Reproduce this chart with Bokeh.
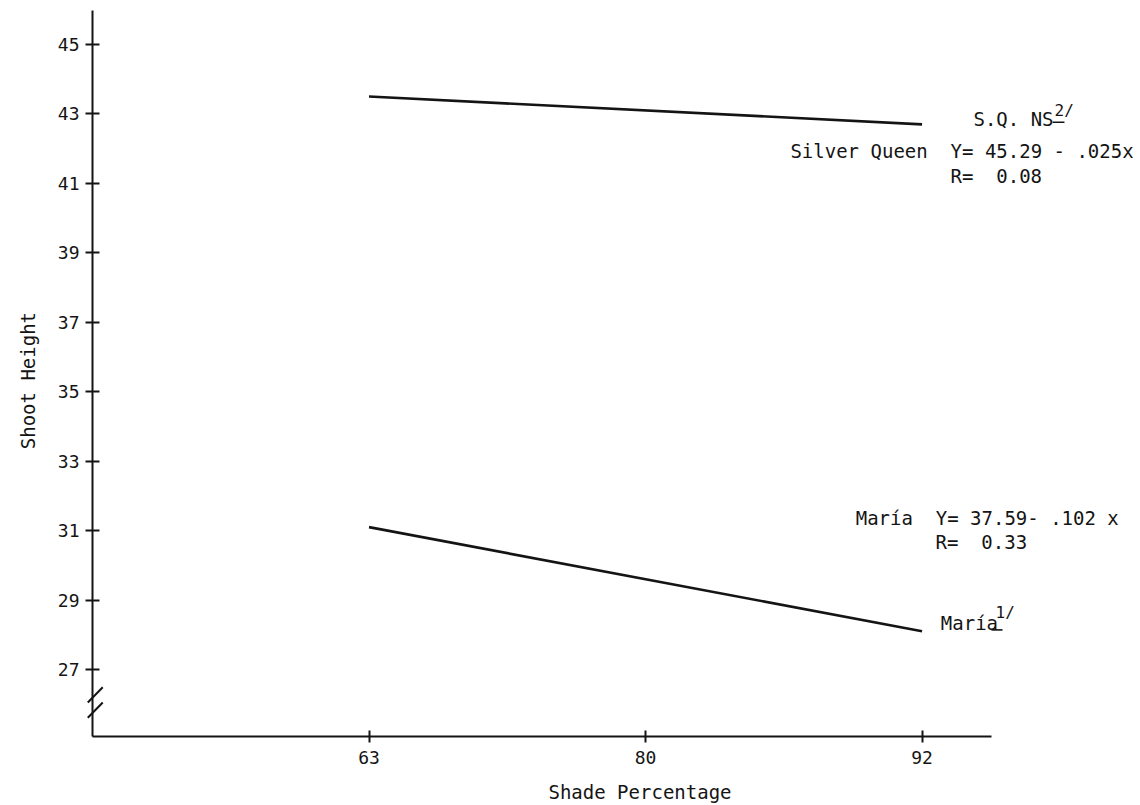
import math
from bokeh.plotting import figure
from bokeh.models import Range1d, FixedTicker, Label, Arrow
from bokeh.embed import file_html
from bokeh.resources import INLINE

# ---- data -------------------------------------------------------------
shade_labels = ["63", "80", "92"]          # x tick labels (equally spaced)
shade = [63, 92]                           # line end points (shade %)
silver_queen = [43.5, 42.7]                # shoot height, Silver Queen
maria = [31.1, 28.1]                       # shoot height, María
y_ticks = [27, 29, 31, 33, 35, 37, 39, 41, 43, 45]
break_y = [26.27, 25.83]                   # axis-break marks on the y axis
y_axis_span = (25.07, 45.98)               # drawn extent of the y axis
x_axis_span = (0, 3.25)                    # drawn extent of the x axis

FONT = "DejaVu Sans Mono"
INK = "#141414"
NB = "\u00a0"

pos = {int(s): i + 1 for i, s in enumerate(shade_labels)}
xs = [pos[s] for s in shade]

# the frame covers the whole canvas so that titles and notes are not clipped
p = figure(width=1140, height=805, output_backend="svg", toolbar_location=None,
           x_range=Range1d(-0.3327, 3.790), y_range=Range1d(23.083, 46.267),
           min_border_left=0, min_border_right=0, min_border_top=0,
           min_border_bottom=0)
p.outline_line_color = None
p.xgrid.visible = False
p.ygrid.visible = False
p.background_fill_color = "white"
p.border_fill_color = "white"

# x axis
xa = p.xaxis[0]
xa.fixed_location = y_axis_span[0]
xa.ticker = FixedTicker(ticks=[1, 2, 3])
xa.major_label_overrides = {i + 1: s for i, s in enumerate(shade_labels)}
xa.bounds = x_axis_span
xa.axis_line_width = 2
xa.axis_line_color = INK
xa.major_tick_line_color = INK
xa.major_tick_line_width = 2
xa.major_tick_in = 6
xa.major_tick_out = 6
xa.minor_tick_line_color = None
xa.major_label_standoff = 8
xa.major_label_text_font = FONT
xa.major_label_text_font_size = "18px"
xa.major_label_text_color = INK

# y axis
ya = p.yaxis[0]
ya.fixed_location = x_axis_span[0]
ya.bounds = y_axis_span
ya.ticker = FixedTicker(ticks=y_ticks)
ya.axis_line_width = 2
ya.axis_line_color = INK
ya.major_tick_line_color = INK
ya.major_tick_line_width = 2
ya.major_tick_in = 7
ya.major_tick_out = 7
ya.minor_tick_line_color = None
ya.major_label_standoff = 6
ya.major_label_text_font = FONT
ya.major_label_text_font_size = "18px"
ya.major_label_text_color = INK

# regression lines
p.line(xs, silver_queen, line_color=INK, line_width=2.6)
p.line(xs, maria, line_color=INK, line_width=2.6)

# axis break marks
for yb in break_y:
    p.add_layout(Arrow(start=None, end=None, x_start=-0.017, y_start=yb - 0.22,
                       x_end=0.037, y_end=yb + 0.22, line_color=INK, line_width=2))

def lab(x, y, text, size="19px", angle=0.0, align="left"):
    p.add_layout(Label(x=x, y=y, text=text, text_font=FONT, text_font_size=size,
                       text_color=INK, text_baseline="middle", text_align=align,
                       angle=angle))

def underline(x0, x1, y):
    p.add_layout(Arrow(start=None, end=None, x_start=x0, y_start=y,
                       x_end=x1, y_end=y, line_color=INK, line_width=1.6))

# axis titles
lab(1.98, 23.46, "Shade Percentage", align="center")
lab(-0.235, 35.32, "Shoot Height", angle=math.pi / 2, align="center")

# Silver Queen annotations
lab(3.186, 42.84, "S.Q. NS")
lab(3.479, 43.10, "2/", "16px")
underline(3.472, 3.515, 42.76)
lab(2.524, 41.92, f"Silver Queen{NB}{NB}Y= 45.29 - .025x")
lab(3.103, 41.20, f"R={NB}{NB}0.08")

# María annotations
lab(2.760, 31.35, f"María{NB}{NB}Y= 37.59- .102 x")
lab(3.049, 30.66, f"R={NB}{NB}0.33")
lab(3.068, 28.35, "María")
lab(3.266, 28.64, "1/", "16px")
underline(3.251, 3.291, 28.14)

open("out.html", "w").write(file_html(p, INLINE))
